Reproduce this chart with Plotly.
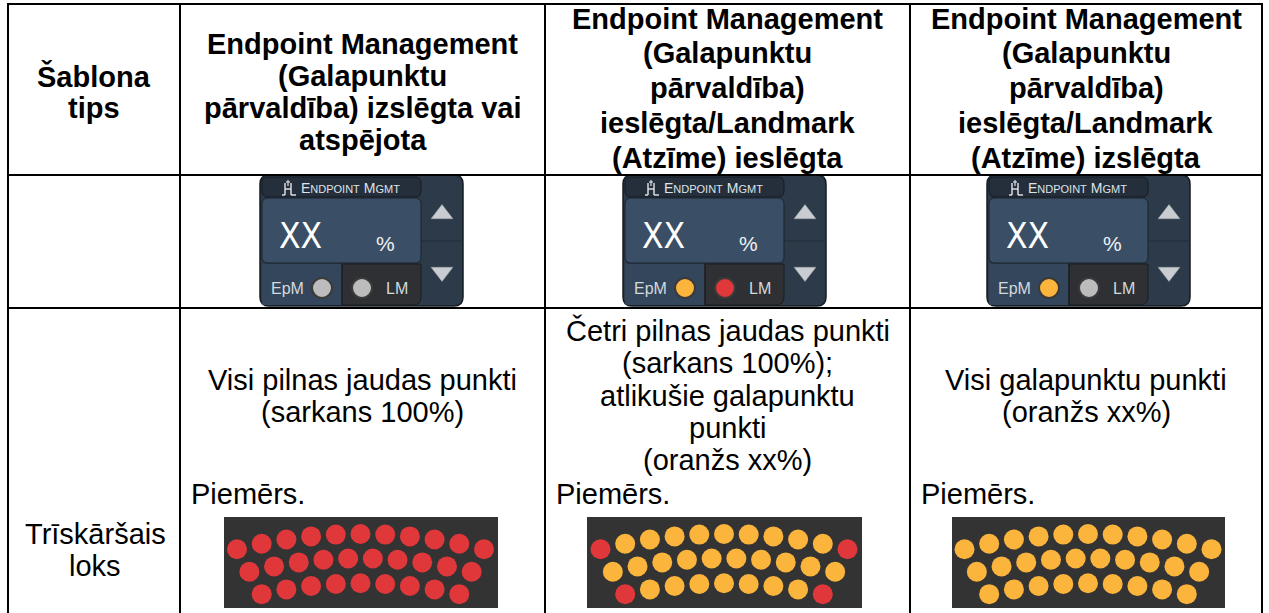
import plotly.graph_objects as go

# ---------------- data ----------------
col_headers = [
    ["Endpoint Management", "(Galapunktu", "pārvaldība) izslēgta vai", "atspējota"],
    ["Endpoint Management", "(Galapunktu", "pārvaldība)", "ieslēgta/Landmark", "(Atzīme) ieslēgta"],
    ["Endpoint Management", "(Galapunktu", "pārvaldība)", "ieslēgta/Landmark", "(Atzīme) izslēgta"],
]
first_col_header = ["Šablona", "tips"]
first_col_row3 = ["Trīskāršais", "loks"]
descriptions = [
    ["Visi pilnas jaudas punkti", "(sarkans 100%)"],
    ["Četri pilnas jaudas punkti", "(sarkans 100%);", "atlikušie galapunktu", "punkti", "(oranžs xx%)"],
    ["Visi galapunktu punkti", "(oranžs xx%)"],
]
example_label = "Piemērs."
widget_value = "XX"
widget_unit = "%"
epm_light = ["G", "O", "O"]   # G gray, O orange, R red
lm_light = ["G", "R", "G"]
dot_patterns = [
    ["RRRRRRRRRRR", "RRRRRRRRRR", "RRRRRRRRR"],
    ["ROOOOOOOOOR", "OOOOOOOOOO", "ROOOOOOOR"],
    ["OOOOOOOOOOO", "OOOOOOOOOO", "OOOOOOOOO"],
]

# ---------------- style / layout ----------------
W, H = 1269, 613
FONT = "Liberation Sans, Arial, sans-serif"
COLS = [8, 180, 545, 910, 1262]
ROWS = [4, 175, 308, 613]
DOT_COL = {"R": "#e0373a", "O": "#fbb43c", "G": "#bcbcbc"}

fig = go.Figure()
shapes = []
ann = []


def line(x0, y0, x1, y1, color="black", width=2):
    shapes.append(dict(type="line", xref="x", yref="y", x0=x0, y0=y0, x1=x1, y1=y1,
                       line=dict(color=color, width=width), layer="above"))


def rect(x0, y0, x1, y1, fill, lc=None, lw=0):
    shapes.append(dict(type="rect", xref="x", yref="y", x0=x0, y0=y0, x1=x1, y1=y1,
                       fillcolor=fill, line=dict(color=lc or fill, width=lw), layer="below"))


def rrect(x0, y0, x1, y1, r, fill, lc, lw=1):
    p = (f"M {x0+r},{y0} L {x1-r},{y0} Q {x1},{y0} {x1},{y0+r} L {x1},{y1-r} "
         f"Q {x1},{y1} {x1-r},{y1} L {x0+r},{y1} Q {x0},{y1} {x0},{y1-r} "
         f"L {x0},{y0+r} Q {x0},{y0} {x0+r},{y0} Z")
    shapes.append(dict(type="path", xref="x", yref="y", path=p, fillcolor=fill,
                       line=dict(color=lc, width=lw), layer="below"))


def text(x, y, s, size, color="black", bold=False, xanchor="center", family=FONT):
    ann.append(dict(x=x, y=y, xref="x", yref="y", text=s, showarrow=False,
                    xanchor=xanchor, yanchor="middle",
                    font=dict(family=family, size=size, color=color,
                              weight="bold" if bold else "normal")))


# table grid
for x in COLS:
    line(x, ROWS[0] - 1, x, ROWS[-1])
for y in ROWS[:-1]:
    line(COLS[0], y, COLS[-1], y)

# first column
text(94, 76, first_col_header[0], 29, bold=True)
text(94, 108, first_col_header[1], 29, bold=True)
text(95, 534, first_col_row3[0], 29)
text(95, 566, first_col_row3[1], 29)

# headers
header_y = [[44, 76, 108, 140], [19, 53, 88, 123, 158], [19, 53, 88, 123, 158]]
for c in range(3):
    cx = (COLS[c + 1] + COLS[c + 2]) / 2
    for ln, yy in zip(col_headers[c], header_y[c]):
        text(cx, yy, ln, 29, bold=True)

# descriptions
desc_y = [[380, 412], [330, 363, 396, 428, 460], [380, 412]]
for c in range(3):
    cx = (COLS[c + 1] + COLS[c + 2]) / 2
    for ln, yy in zip(descriptions[c], desc_y[c]):
        text(cx, yy, ln, 29)
    text(COLS[c + 1] + 9, 494, example_label, 29, xanchor="left")

# widgets
widget_x0 = [260, 623, 987]
light_x, light_y, light_c = [], [], []
tri_x, tri_y, tri_s = [], [], []
for c, x0 in enumerate(widget_x0):
    rrect(x0, 175, x0 + 203, 306, 9, "#2c3a4a", "#151b22", 1.5)
    rrect(x0 + 2, 177, x0 + 161, 197, 6, "#242f3b", "#151b22", 1)
    rrect(x0 + 2, 198, x0 + 161, 263, 6, "#3a4f66", "#1a222c", 1)
    rect(x0 + 2, 264, x0 + 82, 305, "#33465b")
    shapes.append(dict(type="path", xref="x", yref="y",
                       path=f"M {x0+82},264 L {x0+161},264 L {x0+161},297 Q {x0+161},305 {x0+153},305 L {x0+82},305 Z",
                       fillcolor="#2e3033", line=dict(color="#1a1d20", width=1), layer="below"))
    line(x0 + 82, 264, x0 + 82, 305, "#1a1d20", 1)
    line(x0 + 161, 241, x0 + 203, 241, "#1f2a36", 1.2)
    # icon
    ix = x0 + 22
    line(ix + 3, 183, ix + 3, 195, "#d8dde2", 1.5)
    line(ix + 9, 183, ix + 9, 195, "#d8dde2", 1.5)
    line(ix + 3, 189, ix + 9, 189, "#d8dde2", 1.5)
    line(ix, 195, ix + 3, 195, "#d8dde2", 1.5)
    line(ix + 9, 195, ix + 14, 195, "#d8dde2", 1.5)
    line(ix + 6, 180, ix + 6, 186, "#d8dde2", 1.2)
    line(ix + 4, 182, ix + 8, 182, "#d8dde2", 1.2)
    text(x0 + 39, 188,
         "E<span style='font-size:11px'>NDPOINT</span> M<span style='font-size:11px'>GMT</span>",
         14, color="#dfe3e8", xanchor="left")
    text(x0 + 40, 236, widget_value, 35, color="#ffffff",
         family="Liberation Sans Narrow, Arial Narrow, DejaVu Sans Condensed, Liberation Sans")
    text(x0 + 125, 243, widget_unit, 21, color="#eef1f4")
    text(x0 + 27, 288, "EpM", 16, color="#d4d9de")
    text(x0 + 137, 288, "LM", 16, color="#d4d9de")
    light_x += [x0 + 62, x0 + 102]
    light_y += [288, 288]
    light_c += [DOT_COL[epm_light[c]], DOT_COL[lm_light[c]]]
    tri_x += [x0 + 182, x0 + 182]
    tri_y += [214, 272]
    tri_s += ["triangle-up", "triangle-down"]

fig.add_trace(go.Scatter(x=light_x, y=light_y, mode="markers", hoverinfo="skip",
                         marker=dict(size=20, color=light_c, line=dict(color="#3a3a3a", width=2))))
fig.add_trace(go.Scatter(x=tri_x, y=tri_y, mode="markers", hoverinfo="skip",
                         marker=dict(size=19, symbol=tri_s, color="#c9cdd1",
                                     line=dict(color="#9aa0a6", width=0.5))))

# dot panels
panels = [(224, 498), (587, 862), (952, 1225)]
row_top = [534, 558.3, 583.3]
row_R = [500, 460, 450]
spacing = 24.7
for c, (px0, px1) in enumerate(panels):
    rect(px0, 517, px1, 608, "#333333")
    cx = (px0 + px1) / 2 - 0.5
    xs, ys, cs = [], [], []
    for r, pat in enumerate(dot_patterns[c]):
        n = len(pat)
        for k, code in enumerate(pat):
            dx = (k - (n - 1) / 2) * spacing
            xs.append(cx + dx)
            ys.append(row_top[r] + dx * dx / (2 * row_R[r]))
            cs.append(DOT_COL[code])
    fig.add_trace(go.Scatter(x=xs, y=ys, mode="markers", hoverinfo="skip",
                             marker=dict(size=20, color=cs, line=dict(width=0))))

fig.update_layout(
    width=W, height=H, margin=dict(l=0, r=0, t=0, b=0),
    paper_bgcolor="white", plot_bgcolor="white", showlegend=False,
    xaxis=dict(range=[0, W], visible=False, fixedrange=True),
    yaxis=dict(range=[H, 0], visible=False, fixedrange=True),
    shapes=shapes, annotations=ann,
)
fig.write_html("out.html", config={"displayModeBar": False},
               post_script="document.body.style.margin='0';document.body.style.overflow='hidden';")
